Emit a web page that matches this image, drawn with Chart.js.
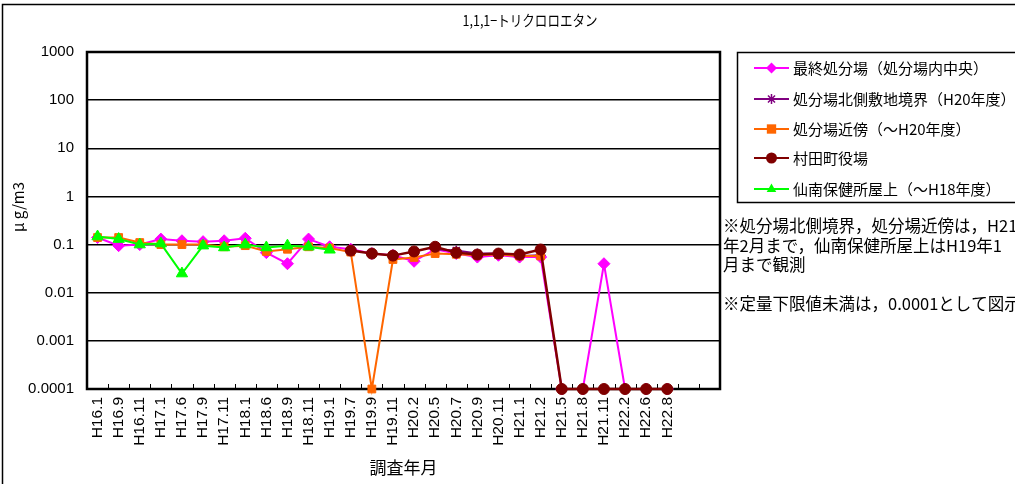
<!DOCTYPE html>
<html><head><meta charset="utf-8">
<script src="https://cdn.jsdelivr.net/npm/chart.js@4/dist/chart.umd.min.js"></script>
<style>html,body{margin:0;padding:0;background:#fff}#wrap{width:1015px;height:484px;position:relative}</style>
</head><body><div id="wrap"><canvas id="c" width="1015" height="484"></canvas></div>
<script>
const TITLE = "1,1,1−トリクロロエタン";
const CATEGORIES = ["H16.1","H16.9","H16.11","H17.1","H17.6","H17.9","H17.11","H18.1","H18.6","H18.9","H18.11","H19.1","H19.7","H19.9","H19.11","H20.2","H20.5","H20.7","H20.9","H20.11","H21.1","H21.2","H21.5","H21.8","H21.11","H22.2","H22.6","H22.8","",""];
const SERIES_NAMES = ["最終処分場（処分場内中央）","処分場北側敷地境界（H20年度）","処分場近傍（～H20年度）","村田町役場","仙南保健所屋上（～H18年度）"];
const central = [0.14,0.095,0.1,0.13,0.12,0.115,0.12,0.135,0.068,0.04,0.13,0.09,0.08,0.065,0.06,0.045,0.08,0.065,0.055,0.06,0.055,0.055,0.0001,0.0001,0.04,0.0001,0.0001,0.0001,null,null];
const northBorder = [null,null,null,null,null,null,null,null,null,null,null,null,null,null,null,null,0.08,0.075,0.065,0.065,0.058,0.06,null,null,null,null,null,null,null,null];
const nearby = [0.14,0.14,0.11,0.1,0.1,0.1,0.09,0.095,0.072,0.08,0.09,0.085,0.07,0.0001,0.049,0.054,0.065,0.063,0.06,0.062,0.058,0.058,null,null,null,null,null,null,null,null];
const townHall = [null,null,null,null,null,null,null,null,null,null,null,null,0.075,0.065,0.059,0.072,0.09,0.068,0.062,0.065,0.062,0.079,0.0001,0.0001,0.0001,0.0001,0.0001,0.0001,null,null];
const healthCenter = [0.147,0.13,0.1,0.105,0.025,0.095,0.087,0.1,0.087,0.095,0.09,0.078,null,null,null,null,null,null,null,null,null,null,null,null,null,null,null,null,null,null];
const Y_TICKS = [0.0001,0.001,0.01,0.1,1,10,100,1000];
const Y_TICK_LABELS = ["0.0001","0.001","0.01","0.1","1","10","100","1000"];
const Y_TITLE = "μ g/m3";
const X_TITLE = "調査年月";
const NOTES = ["※処分場北側境界，処分場近傍は，H21","年2月まで，仙南保健所屋上はH19年1","月まで観測","","※定量下限値未満は，0.0001として図示"];

const FONT = "'Liberation Sans','Noto Sans CJK JP',sans-serif";
const JFONT = "'Noto Sans CJK JP','Liberation Sans',sans-serif";

const STYLES = [
  {color:'#FF00FF', pointStyle:'rectRot', radius:6, width:2},
  {color:'#800080', pointStyle:'star', radius:5, width:2},
  {color:'#FF6600', pointStyle:'rect', radius:5.5, width:2},
  {color:'#800000', pointStyle:'circle', radius:5.5, width:2.5},
  {color:'#00FF00', pointStyle:'triangle', radius:6.5, width:2}
];
const DATA = [central, northBorder, nearby, townHall, healthCenter];

const datasets = DATA.map((d,i)=>({
  label: SERIES_NAMES[i], data: d,
  borderColor: STYLES[i].color, backgroundColor: STYLES[i].color,
  pointBackgroundColor: STYLES[i].color, pointBorderColor: STYLES[i].color,
  pointStyle: STYLES[i].pointStyle, pointRadius: STYLES[i].radius,
  pointBorderWidth: i===1 ? 1.5 : 1, borderWidth: STYLES[i].width,
  tension: 0, spanGaps: false, clip: false
})).reverse();

function drawMarker(ctx, style, x, y, r, color){
  ctx.save(); ctx.fillStyle=color; ctx.strokeStyle=color; ctx.lineWidth=1.5;
  ctx.beginPath();
  if(style==='rectRot'){ctx.moveTo(x,y-r);ctx.lineTo(x+r,y);ctx.lineTo(x,y+r);ctx.lineTo(x-r,y);ctx.closePath();ctx.fill();}
  else if(style==='rect'){const s=r*0.85;ctx.rect(x-s,y-s,2*s,2*s);ctx.fill();}
  else if(style==='circle'){ctx.arc(x,y,r,0,Math.PI*2);ctx.fill();}
  else if(style==='triangle'){ctx.moveTo(x,y-r);ctx.lineTo(x+r*0.87,y+r*0.55);ctx.lineTo(x-r*0.87,y+r*0.55);ctx.closePath();ctx.fill();}
  else if(style==='star'){for(let k=0;k<4;k++){const a=k*Math.PI/4;ctx.moveTo(x+r*Math.cos(a),y+r*Math.sin(a));ctx.lineTo(x-r*Math.cos(a),y-r*Math.sin(a));}ctx.stroke();}
  ctx.restore();
}

const decor = {
  id:'decor',
  beforeDraw(chart){
    const ctx=chart.ctx; ctx.save();
    ctx.fillStyle='#fff'; ctx.fillRect(0,0,chart.width,chart.height);
    ctx.strokeStyle='#000'; ctx.lineWidth=1.5;
    ctx.strokeRect(2.5,4.5,1100,600);
    ctx.fillStyle='#000'; ctx.font="15px "+JFONT; ctx.textBaseline='middle';
    const w=ctx.measureText(TITLE).width; const target=135; const sx=target/w;
    ctx.translate(530-target/2,20); ctx.scale(sx,1); ctx.fillText(TITLE,0,0);
    ctx.restore();
  },
  beforeDatasetsDraw(chart){
    const ctx=chart.ctx, a=chart.chartArea;
    ctx.save(); ctx.strokeStyle='#000';
    ctx.lineWidth=1;
    const n=CATEGORIES.length;
    for(let i=0;i<=n;i++){
      const x=Math.round(a.left+(a.right-a.left)*i/n)+0.5;
      ctx.beginPath();ctx.moveTo(x,a.bottom);ctx.lineTo(x,a.bottom-5);ctx.stroke();
    }
    ctx.lineWidth=2.5;
    ctx.strokeRect(a.left,a.top,a.right-a.left,a.bottom-a.top);
    ctx.restore();
  },
  afterDraw(chart){
    const ctx=chart.ctx; ctx.save();
    ctx.strokeStyle='#000'; ctx.lineWidth=1.5;
    ctx.strokeRect(737.5,52.5,400,150);
    ctx.font="15px "+JFONT; ctx.textBaseline='middle'; ctx.fillStyle='#000';
    const rows=[68,99,129,158,189];
    SERIES_NAMES.forEach((name,i)=>{
      const y=rows[i], st=STYLES[i];
      ctx.strokeStyle=st.color; ctx.lineWidth=2;
      ctx.beginPath();ctx.moveTo(754,y);ctx.lineTo(789,y);ctx.stroke();
      drawMarker(ctx,st.pointStyle,771.5,y,st.pointStyle==='star'?5:5.5,st.color);
      ctx.fillStyle='#000'; ctx.fillText(name,793,y);
    });
    ctx.font="16.5px "+JFONT;
    const ny=[226,246,265,285,304];
    NOTES.forEach((t,i)=>{ if(t) ctx.fillText(t,723,ny[i]); });
    // y axis title
    ctx.font="15px "+JFONT; ctx.textAlign='center';
    ctx.translate(18,207); ctx.rotate(-Math.PI/2); ctx.fillText(Y_TITLE,0,0);
    ctx.restore();
  }
};

new Chart(document.getElementById('c'),{
  type:'line',
  data:{labels:CATEGORIES, datasets},
  options:{
    responsive:false, animation:false, devicePixelRatio:1,
    layout:{padding:{left:0,top:52,right:295,bottom:0}},
    plugins:{legend:{display:false}, title:{display:false}, tooltip:{enabled:false}},
    scales:{
      x:{
        offset:true,
        grid:{display:false, drawTicks:false},
        border:{display:false},
        ticks:{autoSkip:false, maxRotation:90, minRotation:90, padding:8, color:'#000', font:{family:FONT,size:15.5}},
        title:{display:true, text:X_TITLE, color:'#000', font:{family:JFONT,size:17}, padding:{top:0,bottom:6}},
        afterFit(s){ s.height=95; }
      },
      y:{
        type:'logarithmic', min:0.0001, max:1000,
        grid:{color:'#000', lineWidth:1.5, drawTicks:false},
        border:{display:false},
        afterBuildTicks(s){ s.ticks = Y_TICKS.map(v=>({value:v})); },
        ticks:{padding:13, color:'#000', font:{family:FONT,size:15}},
        title:{display:false},
        afterFit(s){ s.width=87; }
      }
    }
  },
  plugins:[decor]
});
// tick label formatting from the named label array
Chart.getChart('c').options.scales.y.ticks.callback = function(v){ const i=Y_TICKS.findIndex(t=>Math.abs(t-v)/t<1e-6); return i>=0?Y_TICK_LABELS[i]:''; };
Chart.getChart('c').update();
</script></body></html>
